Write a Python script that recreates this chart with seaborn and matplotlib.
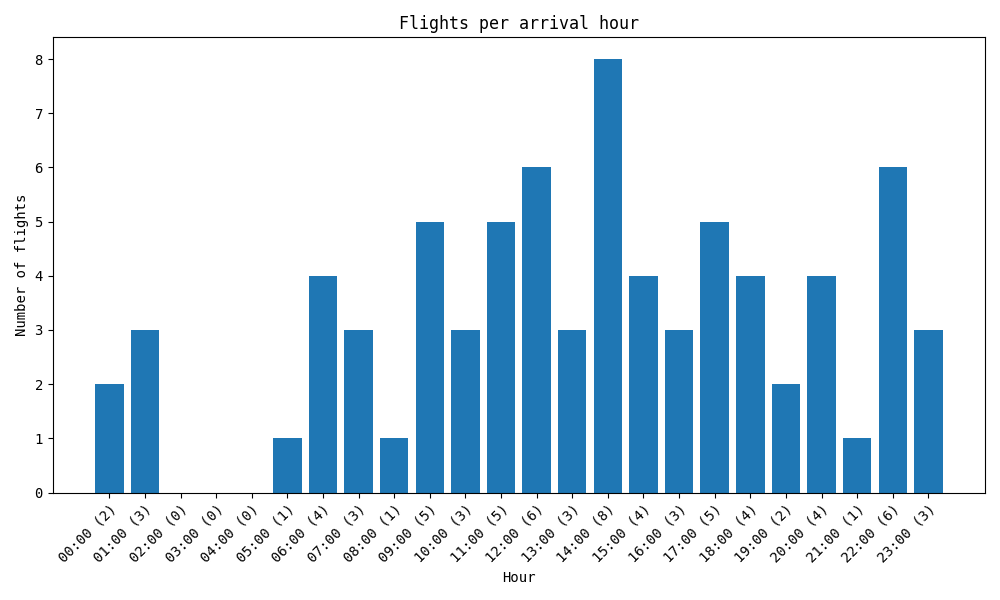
import numpy as np
import pandas as pd
import seaborn as sns
import matplotlib.pyplot as plt

plt.rcParams['font.family'] = ['DejaVu Sans Mono', 'DejaVu Sans']

hours = ["%02d:00" % h for h in range(24)]
counts = [2, 3, 0, 0, 0, 1, 4, 3, 1, 5, 3, 5, 6, 3, 8, 4, 3, 5, 4, 2, 4, 1, 6, 3]
tick_labels = ["%s (%d)" % (h, c) for h, c in zip(hours, counts)]

df = pd.DataFrame({'hour': tick_labels, 'count': counts})

fig, ax = plt.subplots(figsize=(10, 6), dpi=100)
sns.barplot(data=df, x='hour', y='count', color='#1f77b4', saturation=1,
            width=0.8, linewidth=0, ax=ax)

# mimic matplotlib's default 5% margins
n = len(counts)
span = (n - 1) + 0.8
ax.set_xlim(-0.4 - 0.05 * span, n - 1 + 0.4 + 0.05 * span)
ax.set_ylim(0, 8 * 1.05)

ax.set_xticks(range(n))
ax.set_xticklabels(tick_labels, rotation=45, ha='right', rotation_mode='anchor')
ax.set_title("Flights per arrival hour")
ax.set_xlabel("Hour")
ax.set_ylabel("Number of flights")

plt.tight_layout()
plt.savefig("out.png")
